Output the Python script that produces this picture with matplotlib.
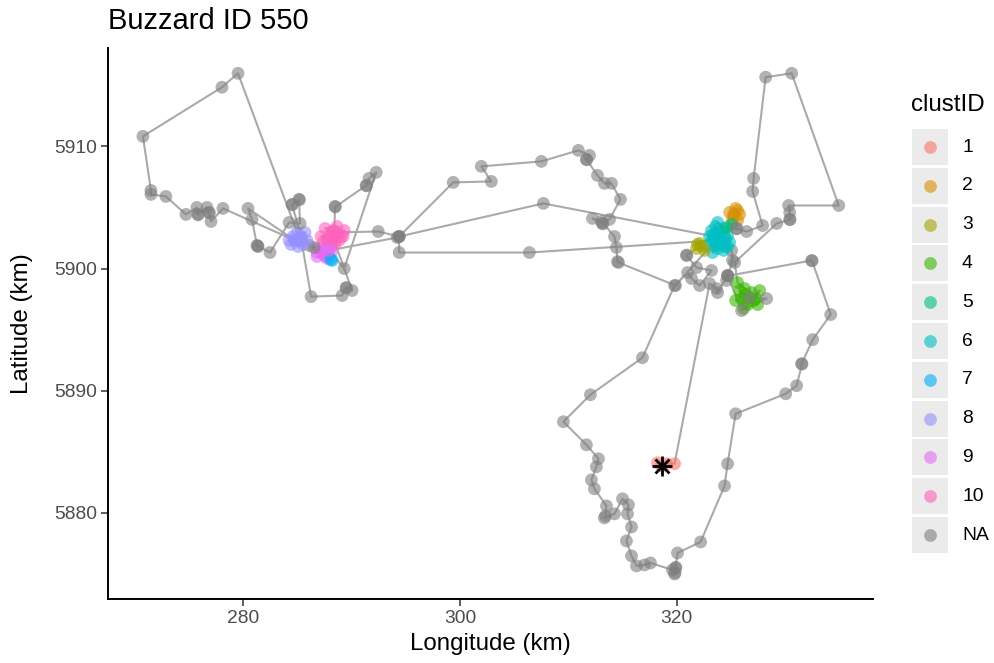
import matplotlib.pyplot as plt
from matplotlib.patches import Rectangle

plt.rcParams['font.family'] = ['Liberation Sans', 'DejaVu Sans']

# GPS fixes of the buzzard, in track order (km, projected)
lon_km = [
    318.60, 318.23, 319.06, 319.80, 323.03, 323.67, 323.77, 324.69, 324.60, 325.15,
    325.06, 323.21, 323.77, 324.32, 323.49, 324.14, 324.69, 323.03, 323.77, 324.41,
    323.31, 323.95, 324.88, 323.58, 323.40, 323.95, 324.51, 323.21, 324.14, 323.77,
    324.32, 323.58, 323.03, 324.69, 324.88, 325.43, 325.80, 325.15, 325.61, 325.24,
    325.61, 325.06, 324.60, 325.52, 325.55, 326.45, 327.92, 327.00, 327.09, 328.20,
    330.60, 334.94, 330.32, 330.42, 330.42, 330.45, 329.22, 325.34, 325.61, 326.26,
    326.91, 325.98, 326.54, 327.28, 327.65, 326.17, 325.80, 327.09, 326.35, 325.43,
    327.46, 326.72, 328.29, 325.98, 324.69, 324.72, 332.45, 332.48, 334.20, 332.54,
    331.52, 331.55, 331.06, 330.05, 325.43, 324.69, 324.41, 322.20, 320.07, 319.89,
    319.92, 319.80, 319.85, 319.61, 317.58, 317.03, 316.29, 315.83, 315.36, 315.83,
    315.46, 315.55, 315.00, 314.26, 313.33, 313.43, 313.52, 312.41, 312.13, 312.59,
    312.78, 311.67, 309.55, 312.04, 316.84, 319.80, 321.00, 321.37, 322.11, 323.21,
    321.83, 320.90, 320.93, 321.83, 322.11, 322.57, 322.29, 321.92, 323.49, 307.70,
    294.40, 299.39, 302.90, 301.98, 307.52, 310.93, 311.95, 311.67, 311.70, 312.69,
    313.33, 313.98, 314.81, 313.80, 313.15, 313.18, 312.23, 313.06, 314.26, 314.44,
    314.53, 314.63, 319.89, 323.58, 306.41, 294.40, 294.40, 292.47, 288.22, 287.57,
    288.68, 289.05, 287.76, 288.49, 287.20, 289.33, 287.94, 288.31, 288.86, 287.39,
    289.23, 288.13, 288.68, 287.02, 287.48, 287.94, 286.83, 287.76, 287.20, 287.57,
    288.13, 286.83, 288.22, 288.10, 286.56, 286.09, 285.36, 284.80, 284.43, 285.72,
    285.08, 285.91, 284.62, 285.17, 285.54, 284.25, 284.99, 279.54, 278.06, 270.77,
    271.51, 271.51, 272.89, 274.74, 275.75, 275.84, 275.87, 276.68, 276.86, 276.89,
    277.05, 278.15, 284.80, 280.46, 280.83, 281.29, 281.39, 281.35, 282.49, 284.25,
    285.26, 285.17, 285.20, 284.52, 284.55, 285.36, 286.28, 289.14, 289.51, 289.54,
    290.06, 288.40, 288.49, 288.52, 291.36, 291.39, 291.63, 292.28, 289.33, 287.94,
    294.22, 294.40,
]
lat_km = [
    5883.85, 5884.10, 5884.02, 5884.02, 5898.77, 5898.36, 5898.03, 5899.43, 5899.02, 5900.66,
    5901.48, 5903.11, 5903.77, 5903.28, 5902.46, 5902.30, 5902.70, 5901.89, 5901.64, 5901.80,
    5901.31, 5902.95, 5902.13, 5903.44, 5902.79, 5902.13, 5902.46, 5902.30, 5903.11, 5902.62,
    5901.48, 5901.97, 5902.62, 5901.80, 5904.59, 5904.92, 5904.43, 5904.02, 5903.93, 5904.43,
    5904.75, 5903.61, 5903.36, 5903.28, 5903.25, 5903.03, 5903.52, 5906.31, 5907.38, 5915.66,
    5915.98, 5905.16, 5905.16, 5904.59, 5904.02, 5904.00, 5903.69, 5900.49, 5898.85, 5898.36,
    5898.03, 5897.54, 5897.05, 5897.54, 5898.20, 5896.72, 5898.20, 5897.38, 5897.87, 5897.38,
    5897.05, 5897.62, 5897.54, 5896.56, 5899.43, 5899.40, 5900.66, 5900.63, 5896.23, 5894.18,
    5892.21, 5892.18, 5890.41, 5889.75, 5888.11, 5884.02, 5882.21, 5877.62, 5876.72, 5875.49,
    5875.55, 5875.00, 5875.10, 5875.33, 5875.90, 5875.74, 5875.66, 5876.48, 5877.70, 5878.85,
    5879.92, 5880.66, 5881.15, 5879.92, 5879.59, 5879.75, 5880.57, 5881.97, 5882.70, 5883.77,
    5884.43, 5885.57, 5887.46, 5889.67, 5892.70, 5898.61, 5899.67, 5899.18, 5898.61, 5899.84,
    5900.08, 5901.07, 5901.10, 5901.64, 5902.05, 5901.48, 5901.80, 5901.97, 5902.62, 5905.33,
    5902.62, 5907.05, 5907.13, 5908.36, 5908.77, 5909.67, 5909.26, 5908.93, 5908.90, 5907.62,
    5906.97, 5906.97, 5905.66, 5904.02, 5903.69, 5903.66, 5904.10, 5903.85, 5902.62, 5901.72,
    5900.57, 5900.49, 5898.61, 5902.30, 5901.31, 5901.31, 5902.62, 5903.03, 5902.95, 5903.28,
    5903.44, 5902.62, 5902.30, 5902.05, 5902.62, 5903.11, 5902.70, 5903.11, 5902.30, 5902.13,
    5902.62, 5901.97, 5902.95, 5901.64, 5901.15, 5901.56, 5900.98, 5900.82, 5901.48, 5900.98,
    5901.31, 5901.31, 5900.66, 5900.75, 5901.72, 5901.89, 5902.62, 5902.30, 5901.97, 5902.95,
    5901.80, 5902.30, 5902.62, 5902.30, 5901.97, 5902.30, 5902.95, 5915.98, 5914.84, 5910.82,
    5906.39, 5906.07, 5905.90, 5904.43, 5905.00, 5904.43, 5904.40, 5905.00, 5904.59, 5904.56,
    5903.85, 5904.92, 5902.30, 5904.92, 5904.02, 5901.89, 5901.80, 5901.85, 5901.31, 5903.77,
    5903.69, 5905.66, 5905.63, 5905.25, 5905.22, 5902.46, 5897.70, 5897.79, 5898.44, 5898.41,
    5898.20, 5902.30, 5905.08, 5905.05, 5906.80, 5906.77, 5907.38, 5907.87, 5900.00, 5901.48,
    5902.54, 5902.62,
]
# cluster membership, 0 = not in a cluster (NA)
clust_id = [
    1, 1, 1, 1, 0, 0, 0, 0, 0, 0,
    0, 6, 6, 6, 6, 6, 6, 6, 6, 6,
    6, 6, 6, 6, 6, 6, 6, 6, 6, 6,
    6, 6, 6, 6, 2, 2, 2, 2, 2, 2,
    2, 5, 5, 0, 0, 0, 0, 0, 0, 0,
    0, 0, 0, 0, 0, 0, 0, 0, 4, 4,
    4, 4, 4, 4, 4, 4, 4, 4, 4, 4,
    4, 0, 0, 0, 0, 0, 0, 0, 0, 0,
    0, 0, 0, 0, 0, 0, 0, 0, 0, 0,
    0, 0, 0, 0, 0, 0, 0, 0, 0, 0,
    0, 0, 0, 0, 0, 0, 0, 0, 0, 0,
    0, 0, 0, 0, 0, 0, 0, 0, 0, 0,
    0, 0, 0, 3, 3, 3, 3, 3, 6, 0,
    0, 0, 0, 0, 0, 0, 0, 0, 0, 0,
    0, 0, 0, 0, 0, 0, 0, 0, 0, 0,
    0, 0, 0, 6, 0, 0, 0, 0, 10, 10,
    10, 10, 10, 10, 10, 10, 10, 10, 10, 10,
    10, 10, 10, 9, 9, 9, 9, 9, 9, 9,
    9, 9, 7, 7, 0, 0, 8, 8, 8, 8,
    8, 8, 8, 8, 8, 8, 8, 0, 0, 0,
    0, 0, 0, 0, 0, 0, 0, 0, 0, 0,
    0, 0, 8, 0, 0, 0, 0, 0, 0, 0,
    0, 0, 0, 0, 0, 8, 0, 0, 0, 0,
    0, 10, 0, 0, 0, 0, 0, 0, 0, 9,
    0, 0,
]

clust_labels = ['1', '2', '3', '4', '5', '6', '7', '8', '9', '10', 'NA']
clust_colors = ['#F8766D', '#D89000', '#A3A500', '#39B600', '#00BF7D',
                '#00BFC4', '#00B0F6', '#9590FF', '#E76BF3', '#FF62BC']
na_color = '#7F7F7F'

point_colors = [clust_colors[c - 1] if c else na_color for c in clust_id]

fig = plt.figure(figsize=(9.95, 6.63), dpi=100)
ax = fig.add_axes([108 / 995, 1 - 599 / 663, (873 - 108) / 995, (599 - 48) / 663])

ax.plot(lon_km, lat_km, color='#AAAAAA', lw=1.5, zorder=1)
ax.scatter(lon_km, lat_km, c=point_colors, s=85, alpha=0.6, linewidths=0, zorder=2)

# first fix marked with an asterisk
ax.plot(lon_km[0], lat_km[0], marker='+', ms=14, mew=2.0, color='black', zorder=3)
ax.plot(lon_km[0], lat_km[0], marker='x', ms=10, mew=2.0, color='black', zorder=3)

ax.set_xlim(267.55, 338.1)
ax.set_ylim(5872.95, 5918.05)
ax.set_xticks([280, 300, 320])
ax.set_yticks([5880, 5890, 5900, 5910])
ax.set_yticklabels(['5880', '5890', '5900', '5910'])
ax.tick_params(length=5, width=1.1, color='#333333', labelsize=13.9,
               labelcolor='#4D4D4D', pad=3)
for side in ['top', 'right']:
    ax.spines[side].set_visible(False)
for side in ['left', 'bottom']:
    ax.spines[side].set_linewidth(1.4)

ax.set_title('Buzzard ID 550', loc='left', fontsize=21, pad=13.5)
ax.set_xlabel('Longitude (km)', fontsize=17.4, labelpad=4)
ax.set_ylabel('Latitude (km)', fontsize=17.4, labelpad=15)

# legend drawn in figure pixel space
lax = fig.add_axes([0, 0, 1, 1])
lax.set_xlim(0, 995)
lax.set_ylim(663, 0)
lax.axis('off')
lax.text(911, 105, 'clustID', fontsize=17.4, va='center', ha='left')
for i, lab in enumerate(clust_labels):
    yc = 147 + i * 38.8
    lax.add_patch(Rectangle((912, yc - 18), 36, 36, facecolor='#EBEBEB', edgecolor='none'))
    col = clust_colors[i] if i < len(clust_colors) else na_color
    lax.scatter([930], [yc], s=85, color=col, alpha=0.6, linewidths=0)
    lax.text(962, yc, lab, fontsize=13.9, va='center', ha='left')

fig.savefig('out.png', dpi=100)
